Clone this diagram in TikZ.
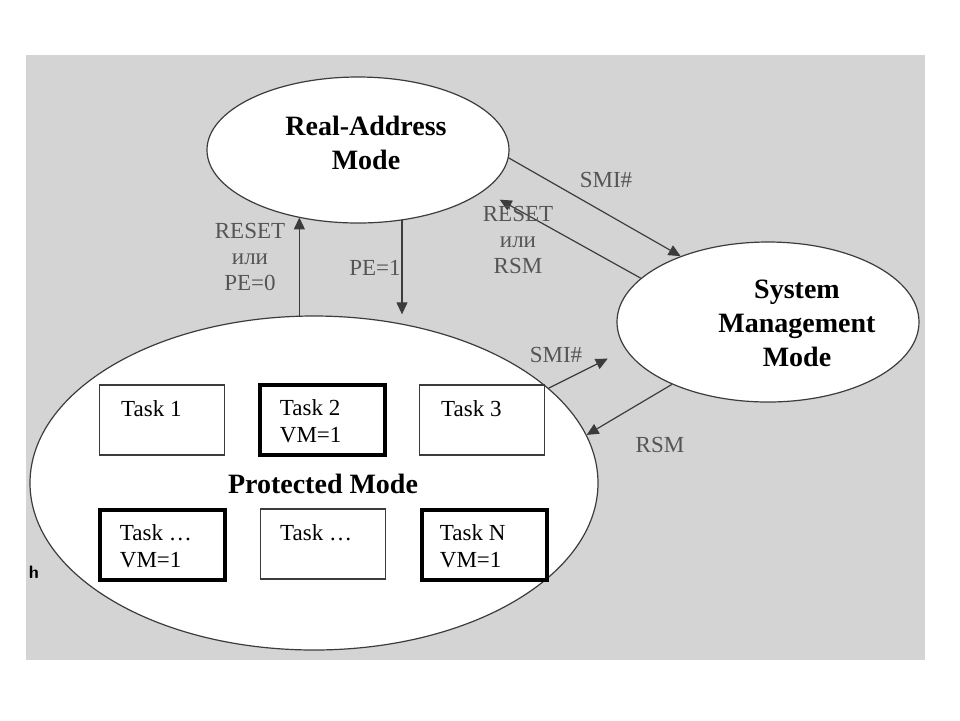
\documentclass[tikz,border=0pt]{standalone}
\usepackage{fontspec}
\setmainfont{Liberation Serif}
\usetikzlibrary{shapes.geometric,arrows.meta,positioning}

\definecolor{slidegray}{RGB}{212,212,212}
\definecolor{linegray}{RGB}{60,60,60}
\definecolor{labelgray}{RGB}{85,85,85}

\tikzset{
	mode/.style={ellipse,draw=linegray,line width=0.6pt,fill=white,inner sep=0pt},
	modetext/.style={font=\fontsize{14}{17}\selectfont\bfseries,align=center,inner sep=0pt},
	taskbox/.style={draw=linegray,line width=0.7pt,fill=white,minimum width=62.5pt,minimum height=35pt,inner sep=0pt},
	vmbox/.style={taskbox,draw=black,line width=2pt},
	tasktext/.style={font=\fontsize{11.5}{13.5}\selectfont,align=left,inner sep=0pt,anchor=north west},
	trans/.style={draw=linegray,line width=0.6pt,-{Triangle[length=6pt,width=5.5pt]}},
	translabel/.style={font=\fontsize{11.5}{13}\selectfont,text=labelgray,inner sep=0pt}
}

\begin{document}
\begin{tikzpicture}[x=0.5pt,y=-0.5pt]
	\useasboundingbox (0,0) rectangle (960,720);
	
	% Slide background
	\fill[slidegray] (26,55) rectangle (925,660);
	\node[font=\sffamily\bfseries\small,inner sep=0pt] (hmark) at (34,572) {h};
	
	% The three modes
	\node[mode,minimum width=151pt,minimum height=73pt] (ram) at (358,150) {};
	\node[mode,minimum width=151pt,minimum height=80pt] (smm) at (768,322) {};
	\node[mode,minimum width=284pt,minimum height=167pt] (pm) at (314,483) {};
	
	\node[modetext] (ramtext) at (366,143) {Real-Address\\Mode};
	\node[modetext] (smmtext) at (797,323) {System\\Management\\Mode};
	\node[modetext] (pmtext) at (323,484) {Protected Mode};
	
	% Tasks inside protected mode
	\node[taskbox] (t1) at (162,420) {};
	\node[vmbox] (t2) at (322,420) {};
	\node[taskbox] (t3) at (482,420) {};
	\node[vmbox] (t4) at (162,545) {};
	\node[taskbox] (t5) at (323,544) {};
	\node[vmbox] (t6) at (484,545) {};
	
	\node[tasktext, below right=8pt and 11pt of t1.north west] (t1text) {Task 1};
	\node[tasktext, below right=8pt and 11pt of t2.north west] (t2text) {Task 2\\VM=1};
	\node[tasktext, below right=8pt and 11pt of t3.north west] (t3text) {Task 3};
	\node[tasktext, below right=8pt and 11pt of t4.north west] (t4text) {Task \dots\\VM=1};
	\node[tasktext, below right=8pt and 10pt of t5.north west] (t5text) {Task \dots};
	\node[tasktext, below right=8pt and 10pt of t6.north west] (t6text) {Task N\\VM=1};
	
	% Transitions
	\draw[trans] (pm.95.5) -- (pm.95.5 |- ram.228);
	\draw[trans,shorten >=5pt] (ram.302.9) -- (ram.302.9 |- pm.60.7);
	\draw[trans] (ram.357) -- (smm.143.7);
	\draw[trans,shorten >=9pt] (smm.161.4) -- (ram.342.4);
	\draw[trans,shorten >=10pt] (pm.22.8) -- (smm.191.5);
	\draw[trans] (smm.213.6) -- (pm.10.2);
	
	% Transition labels
	\node[translabel,align=center] (l1) at (250,257) {RESET\\или\\PE=0};
	\node[translabel] (l2) at (375,268) {PE=1};
	\node[translabel] (l3) at (606,180) {SMI\#};
	\node[translabel,align=center] (l4) at (518,240) {RESET\\или\\RSM};
	\node[translabel] (l5) at (556,355) {SMI\#};
	\node[translabel] (l6) at (660,445) {RSM};
\end{tikzpicture}
\end{document}
